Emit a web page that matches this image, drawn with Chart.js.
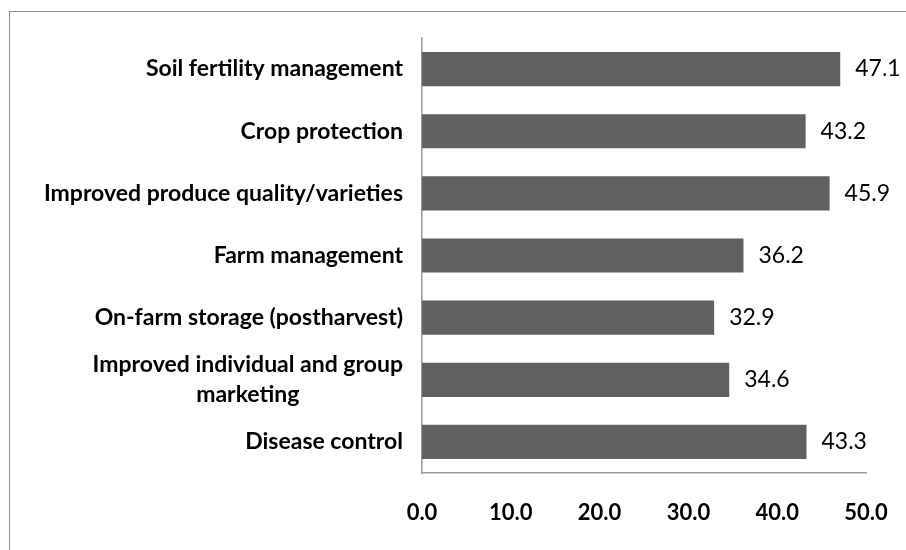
<!DOCTYPE html>
<html>
<head>
<meta charset="utf-8">
<script src="https://cdn.jsdelivr.net/npm/chart.js@4"></script>
<style>
  body { margin: 0; background: #fff; }
  #wrap { position: relative; width: 906px; height: 550px; overflow: hidden; }
  #frame { position: absolute; left: 9px; top: 11px; width: 960px; height: 600px; border: 1.5px solid #8e8e8e; }
  canvas { position: absolute; left: 0; top: 0; }
</style>
</head>
<body>
<div id="wrap">
  <div id="frame"></div>
  <canvas id="chart" width="906" height="550"></canvas>
</div>
<script>
const categories = [
  ["Soil fertility management"],
  ["Crop protection"],
  ["Improved produce quality/varieties"],
  ["Farm management"],
  ["On-farm storage (postharvest)"],
  ["Improved individual and group", "marketing"],
  ["Disease control"]
];
const values = [47.1, 43.2, 45.9, 36.2, 32.9, 34.6, 43.3];
const xTicks = [0, 10, 20, 30, 40, 50];

const FONT = "Lato, 'Open Sans', sans-serif";

// category labels: block right-aligned, lines centred on each other
const categoryLabels = {
  id: "categoryLabels",
  afterDraw(chart) {
    const ctx = chart.ctx;
    const yScale = chart.scales.y;
    ctx.save();
    ctx.font = "bold 23px " + FONT;
    ctx.fillStyle = "#000";
    ctx.textAlign = "center";
    ctx.textBaseline = "middle";
    const lineH = 30;
    categories.forEach((lines, i) => {
      const y = yScale.getPixelForValue(i);
      const w = Math.max(...lines.map(l => ctx.measureText(l).width));
      const cx = 403 - w / 2;
      const y0 = y - (lines.length - 1) * lineH / 2;
      lines.forEach((l, j) => ctx.fillText(l, cx, y0 + j * lineH));
    });
    ctx.restore();
  }
};

// value labels at the end of each bar
const valueLabels = {
  id: "valueLabels",
  afterDatasetsDraw(chart) {
    const ctx = chart.ctx;
    const meta = chart.getDatasetMeta(0);
    ctx.save();
    ctx.font = "23px " + FONT;
    ctx.fillStyle = "#000";
    ctx.textAlign = "left";
    ctx.textBaseline = "middle";
    meta.data.forEach((bar, i) => {
      ctx.fillText(values[i].toFixed(1), bar.x + 15, bar.y);
    });
    ctx.restore();
  }
};

new Chart(document.getElementById("chart"), {
  type: "bar",
  data: {
    labels: categories.map((c, i) => i),
    datasets: [{
      data: values,
      backgroundColor: "#616161",
      borderWidth: 0,
      categoryPercentage: 1,
      barPercentage: 0.55
    }]
  },
  options: {
    indexAxis: "y",
    responsive: false,
    animation: false,
    layout: { padding: { top: 38, right: 40, bottom: 0, left: 0 } },
    plugins: { legend: { display: false }, tooltip: { enabled: false } },
    scales: {
      x: {
        min: 0,
        max: 50,
        afterBuildTicks: (scale) => { scale.ticks = xTicks.map(v => ({ value: v })); },
        afterFit: (scale) => { scale.height = 77; },
        grid: { display: false, drawTicks: true, tickLength: 27 },
        border: { display: true, color: "#9a9a9a", width: 1.5 },
        ticks: {
          padding: 0,
          color: "#000",
          font: { family: FONT, size: 22, weight: "bold" },
          callback: (v) => Number(v).toFixed(1)
        }
      },
      y: {
        afterFit: (scale) => { scale.width = 422; },
        grid: { display: false, drawTicks: false },
        border: { display: true, color: "#9a9a9a", width: 1.5 },
        ticks: { display: false }
      }
    }
  },
  plugins: [categoryLabels, valueLabels]
});
</script>
</body>
</html>
